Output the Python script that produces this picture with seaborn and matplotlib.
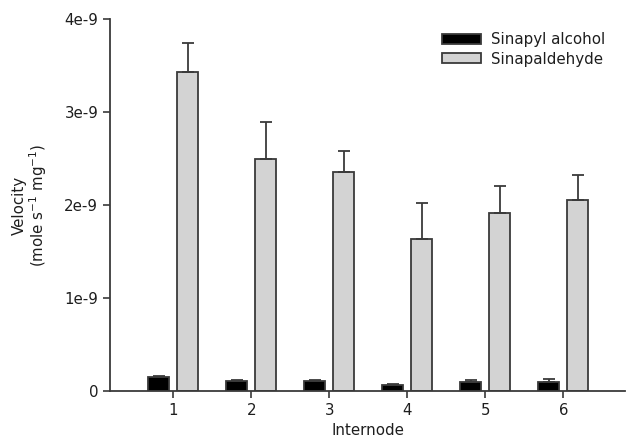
import numpy as np
import pandas as pd
import matplotlib
matplotlib.use("Agg")
import matplotlib.pyplot as plt
import seaborn as sns

# ---- data ----
internodes = ["1", "2", "3", "4", "5", "6"]
sinapyl_alcohol = [0.154e-9, 0.110e-9, 0.110e-9, 0.065e-9, 0.097e-9, 0.097e-9]
sinapyl_alcohol_err = [0.011e-9, 0.010e-9, 0.008e-9, 0.007e-9, 0.025e-9, 0.036e-9]
sinapaldehyde = [3.43e-9, 2.49e-9, 2.35e-9, 1.64e-9, 1.91e-9, 2.05e-9]
sinapaldehyde_err = [0.31e-9, 0.40e-9, 0.23e-9, 0.38e-9, 0.29e-9, 0.27e-9]

series_names = ["Sinapyl alcohol", "Sinapaldehyde"]
y_ticks = [0, 1e-9, 2e-9, 3e-9, 4e-9]
y_tick_labels = ["0", "1e-9", "2e-9", "3e-9", "4e-9"]

df = pd.DataFrame({
    "Internode": internodes * 2,
    "Substrate": [series_names[0]] * 6 + [series_names[1]] * 6,
    "Velocity": sinapyl_alcohol + sinapaldehyde,
    "Err": sinapyl_alcohol_err + sinapaldehyde_err,
})

sns.set_style("ticks")
plt.rcParams["font.family"] = ["DejaVu Sans"]
plt.rcParams["mathtext.fontset"] = "dejavusans"

text_col = "#1e1e1e"
edge_col = "#3a3a3a"
fs = 10.8

fig = plt.figure(figsize=(6.41, 4.44), dpi=100)
ax = fig.add_axes([0.1716, 0.1194, 0.8034, 0.8376])

sns.barplot(data=df, x="Internode", y="Velocity", hue="Substrate",
            palette=["#000000", "#d3d3d3"], errorbar=None,
            width=0.744, gap=0.27, linewidth=1.3, edgecolor=edge_col, ax=ax)

# upper error bars only, at each bar centre
for patch, (_, row) in zip(ax.patches, df.iterrows()):
    cx = patch.get_x() + patch.get_width() / 2
    ax.errorbar(cx, row["Velocity"], yerr=[[0], [row["Err"]]], fmt="none",
                ecolor=edge_col, elinewidth=1.3, capsize=4.3, capthick=1.3)

ax.set_xlim(-0.81, 5.79)
ax.set_ylim(0, 4e-9)
ax.set_yticks(y_ticks)
ax.set_yticklabels(y_tick_labels)
ax.yaxis.get_offset_text().set_visible(False)

ax.set_xlabel("Internode", fontsize=fs, color=text_col, labelpad=4)
ax.set_ylabel("Velocity\n(mole s$^{-1}$ mg$^{-1}$)", fontsize=fs, color=text_col,
              labelpad=11, linespacing=1.0)
ax.tick_params(axis="both", labelsize=fs, colors=edge_col, labelcolor=text_col,
               length=5, width=1.2, direction="out")

sns.despine(ax=ax)
for s in ["left", "bottom"]:
    ax.spines[s].set_color(edge_col)
    ax.spines[s].set_linewidth(1.3)

leg = ax.legend(loc="upper left", bbox_to_anchor=(0.645, 0.965), frameon=False,
                fontsize=fs, handlelength=2.6, handleheight=0.65,
                handletextpad=0.65, labelspacing=0.3, borderpad=0,
                borderaxespad=0)
for t in leg.get_texts():
    t.set_color(text_col)

fig.savefig("out.png", dpi=100)
